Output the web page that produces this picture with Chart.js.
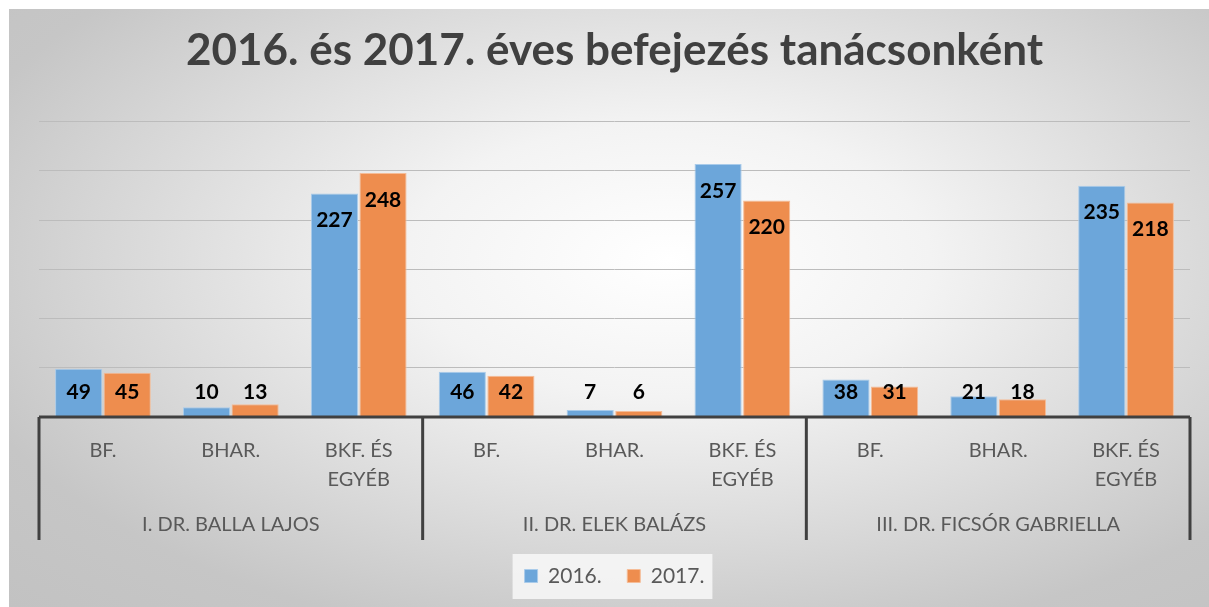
<!DOCTYPE html>
<html>
<head>
<meta charset="utf-8">
<script src="https://cdn.jsdelivr.net/npm/chart.js@4.4.0/dist/chart.umd.min.js"></script>
<style>
html, body { margin: 0; padding: 0; background: #fff; }
#wrap {
    position: absolute; left: 9px; top: 9px; width: 1200px; height: 598px;
    background: radial-gradient(ellipse farthest-corner at 55% 42%, #ffffff 0%, #f3f3f3 28%, #c6c6c6 80%, #c2c2c2 100%);
}
canvas { display: block; }
</style>
</head>
<body>
<div id="wrap"><canvas id="chart" width="1200" height="598"></canvas></div>
<script>
var Categories = ['BF.', 'BHAR.', ['BKF. ÉS', 'EGYÉB'], 'BF.', 'BHAR.', ['BKF. ÉS', 'EGYÉB'], 'BF.', 'BHAR.', ['BKF. ÉS', 'EGYÉB']];
var GroupNames = ['I. DR. BALLA LAJOS', 'II. DR. ELEK BALÁZS', 'III. DR. FICSÓR GABRIELLA'];
var SeriesNames = ['2016.', '2017.'];
var Values2016 = [49, 10, 227, 46, 7, 257, 38, 21, 235];
var Values2017 = [45, 13, 248, 42, 6, 220, 31, 18, 218];
var YTicks = [0, 50, 100, 150, 200, 250, 300];

var _FillColor = ['#6ca6da', '#ee8d4e'];
var _EdgeColor = ['#a9cbea', '#f5bc97'];

// labels: inside the end of the bar, but never lower than just above the axis
var barLabels = {
    id: 'barLabels',
    afterDatasetsDraw: function (chart) {
        var ctx = chart.ctx;
        var base = chart.scales.y.getPixelForValue(0);
        ctx.save();
        ctx.font = 'bold 21px Lato';
        ctx.fillStyle = '#000';
        ctx.textAlign = 'center';
        ctx.textBaseline = 'middle';
        for (var i = 0; i < chart.data.datasets.length; i++) {
            var _meta = chart.getDatasetMeta(i);
            for (var j = 0; j < _meta.data.length; j++) {
                var _bar = _meta.data[j];
                var _y = Math.min(_bar.y + 27, base - 25);
                ctx.fillText(chart.data.datasets[i].data[j], _bar.x, _y);
            }
        }
        ctx.restore();
    }
};

// the dark axis line and the group dividers of the two-level category axis
var axisFrame = {
    id: 'axisFrame',
    afterDraw: function (chart) {
        var ctx = chart.ctx;
        var x = chart.scales.x;
        var x2 = chart.scales.x2;
        var base = chart.scales.y.getPixelForValue(0);
        ctx.save();
        ctx.strokeStyle = '#404040';
        ctx.lineWidth = 3;
        ctx.beginPath();
        ctx.moveTo(x.left, base);
        ctx.lineTo(x.right, base);
        var _bounds = [-0.5, 2.5, 5.5, 8.5];
        for (var i = 0; i < _bounds.length; i++) {
            var _px = x.getPixelForValue(_bounds[i]);
            ctx.moveTo(_px, base);
            ctx.lineTo(_px, x2.bottom);
        }
        ctx.stroke();
        ctx.restore();
    }
};

// light panel behind the legend
var legendPanel = {
    id: 'legendPanel',
    beforeDraw: function (chart) {
        var _boxes = chart.legend.legendHitBoxes;
        if (!_boxes || !_boxes.length) return;
        var _first = _boxes[0], _last = _boxes[_boxes.length - 1];
        var _cy = _first.top + _first.height / 2;
        var _left = _first.left - 12;
        var ctx = chart.ctx;
        ctx.save();
        ctx.fillStyle = 'rgba(248,248,248,0.85)';
        ctx.fillRect(_left, _cy - 22, _last.left + _last.width + 8 - _left, 45);
        ctx.restore();
    }
};

function draw() {
    Chart.defaults.font.family = 'Lato';
    var ctx = document.getElementById('chart');
    new Chart(ctx, {
        type: 'bar',
        data: {
            labels: Categories,
            datasets: [
                { label: SeriesNames[0], data: Values2016, backgroundColor: _FillColor[0], borderColor: _EdgeColor[0], borderWidth: 1 },
                { label: SeriesNames[1], data: Values2017, backgroundColor: _FillColor[1], borderColor: _EdgeColor[1], borderWidth: 1 }
            ]
        },
        options: {
            responsive: false,
            animation: false,
            events: [],
            categoryPercentage: 0.76,
            barPercentage: 0.97,
            layout: { padding: { left: 30, right: 19, top: 0, bottom: 10.5 } },
            scales: {
                y: {
                    min: YTicks[0],
                    max: YTicks[YTicks.length - 1],
                    ticks: { display: false, stepSize: YTicks[1] - YTicks[0] },
                    border: { display: false },
                    grid: {
                        drawTicks: false,
                        color: function (c) { return c.tick && c.tick.value === 0 ? 'rgba(0,0,0,0)' : '#bcbcbc'; }
                    },
                    afterFit: function (s) { s.width = 0; }
                },
                x: {
                    weight: 0,
                    grid: { display: false },
                    border: { display: false },
                    ticks: { color: '#595959', font: { size: 20, lineHeight: 1.45 }, padding: 11, maxRotation: 0, autoSkip: false },
                    afterFit: function (s) { s.height = 76; }
                },
                x2: {
                    type: 'category',
                    position: 'bottom',
                    weight: 1,
                    labels: GroupNames,
                    offset: true,
                    grid: { display: false },
                    border: { display: false },
                    ticks: { color: '#595959', font: { size: 20, lineHeight: 1.45 }, padding: 9.5, maxRotation: 0, autoSkip: false },
                    afterFit: function (s) { s.height = 47; }
                }
            },
            plugins: {
                title: {
                    display: true,
                    text: '2016. és 2017. éves befejezés tanácsonként',
                    color: '#404040',
                    font: { size: 44, weight: 'bold', lineHeight: 1.2 },
                    padding: { top: 15.6, bottom: 44.3 }
                },
                legend: {
                    position: 'bottom',
                    labels: { color: '#595959', font: { size: 21 }, boxWidth: 13, boxHeight: 13, padding: 25.5 }
                },
                tooltip: { enabled: false }
            }
        },
        plugins: [legendPanel, barLabels, axisFrame]
    });
}

Promise.all([
    document.fonts.load('bold 44px Lato'),
    document.fonts.load('20px Lato')
]).then(draw, draw);
</script>
</body>
</html>
